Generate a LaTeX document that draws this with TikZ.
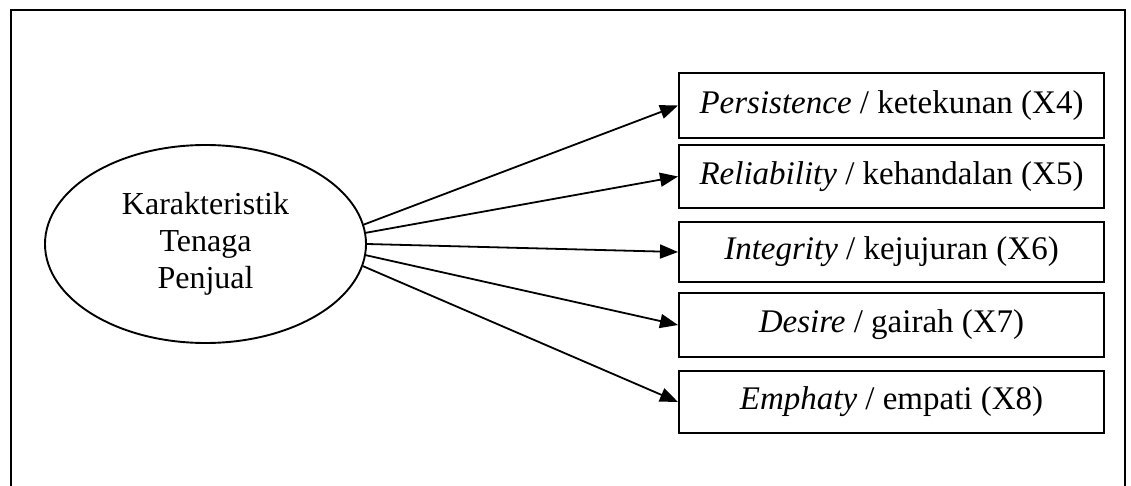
\documentclass[tikz,border=0pt]{standalone}
\usepackage{fontspec}
\setmainfont{Liberation Serif}
\usetikzlibrary{arrows.meta,shapes.geometric}
\begin{document}
\begin{tikzpicture}[x=1pt,y=-1pt,
  box/.style={draw,line width=2pt,minimum width=425pt,inner sep=0pt,font=\fontsize{33}{38}\selectfont},
  conn/.style={line width=1.8pt,-{Triangle[length=18pt,width=14pt]}},
  frame/.style={line width=2.6pt}]
\useasboundingbox (0,0) rectangle (1131,486);
\coordinate (fbl) at (11,487);
\coordinate (ftl) at (11,10);
\coordinate (ftr) at (1125,10);
\coordinate (fbr) at (1125,487);
\draw[frame] (fbl) -- (ftl) -- (ftr) -- (fbr);
\node[draw,ellipse,line width=1.9pt,minimum width=321pt,minimum height=198pt,inner sep=0pt,
  align=center,font=\fontsize{32}{37}\selectfont] (e) at (205.5,244) {Karakteristik\\Tenaga\\Penjual};
\node[box,minimum height=65pt] (b1) at (891.5,105.5) {\textit{Persistence} / ketekunan (X4)};
\node[box,minimum height=63pt] (b2) at (891.5,176.5) {\textit{Reliability} / kehandalan (X5)};
\node[box,minimum height=60pt] (b3) at (891.5,252) {\textit{Integrity} / kejujuran (X6)};
\node[box,minimum height=64pt] (b4) at (891.5,325) {\textit{Desire} / gairah (X7)};
\node[box,minimum height=62pt] (b5) at (891.5,402) {\textit{Emphaty} / empati (X8)};
\draw[conn] (e.7.8) -- (b1.west);
\draw[conn] (e.4.3) -- (b2.west);
\draw[conn] (e.0) -- (b3.west);
\draw[conn] (e.-4.3) -- (b4.west);
\draw[conn] (e.-8.2) -- (b5.west);
\end{tikzpicture}
\end{document}
